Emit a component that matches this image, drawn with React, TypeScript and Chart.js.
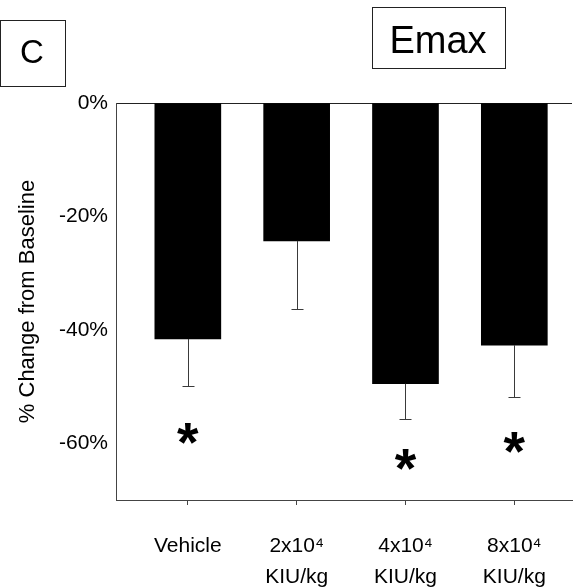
import React, { useEffect, useRef } from 'react';
import { Chart, registerables } from 'chart.js';

Chart.register(...registerables);

// ---- data ----
const categories: string[][] = [
  ['Vehicle'],
  ['2x10\u2074', 'KIU/kg'],
  ['4x10\u2074', 'KIU/kg'],
  ['8x10\u2074', 'KIU/kg'],
];
const meanChange = [-41.6, -24.3, -49.5, -42.7];
const errorSize = [8.3, 12.0, 6.2, 9.1];
const asteriskLevel: (number | null)[] = [-58.2, null, -62.8, -59.8];
const yTickValues = [0, -20, -40, -60];
const yMin = -70;
const yMax = 0;
const panelLabel = 'C';
const panelTitle = 'Emax';
const yAxisTitle = '% Change from Baseline';

const FONT = '"Liberation Sans", Arial, sans-serif';

const overlayPlugin = {
  id: 'overlay',
  afterDatasetsDraw(chart: any) {
    const ctx = chart.ctx as CanvasRenderingContext2D;
    const xs = chart.scales.x;
    const ys = chart.scales.y;
    ctx.save();
    // error bars (downward only)
    ctx.strokeStyle = '#3a3a3a';
    ctx.lineWidth = 1;
    meanChange.forEach((m, i) => {
      const x = Math.round(xs.getPixelForValue(i)) + 0.5;
      const y0 = ys.getPixelForValue(m);
      const y1 = Math.round(ys.getPixelForValue(m - errorSize[i])) + 0.5;
      ctx.beginPath();
      ctx.moveTo(x, y0);
      ctx.lineTo(x, y1);
      ctx.moveTo(x - 6, y1);
      ctx.lineTo(x + 6, y1);
      ctx.stroke();
    });
    // significance asterisks
    const probeSize = 100;
    ctx.font = `bold ${probeSize}px ${FONT}`;
    const m0 = ctx.measureText('*');
    const h0 = m0.actualBoundingBoxAscent + m0.actualBoundingBoxDescent;
    const size = (probeSize * 21) / (h0 || 30);
    ctx.font = `bold ${size}px ${FONT}`;
    ctx.fillStyle = '#000';
    ctx.textAlign = 'center';
    ctx.textBaseline = 'alphabetic';
    const mm = ctx.measureText('*');
    const mid = (mm.actualBoundingBoxAscent - mm.actualBoundingBoxDescent) / 2;
    asteriskLevel.forEach((lv, i) => {
      if (lv === null) return;
      const x = xs.getPixelForValue(i);
      const y = ys.getPixelForValue(lv);
      ctx.fillText('*', x, y + mid);
    });
    ctx.restore();
  },
  afterDraw(chart: any) {
    const ctx = chart.ctx as CanvasRenderingContext2D;
    ctx.save();
    ctx.strokeStyle = '#222';
    ctx.lineWidth = 1;
    ctx.fillStyle = '#000';
    // panel label box
    ctx.strokeRect(0.5, 20.5, 65, 66);
    ctx.font = `33px ${FONT}`;
    ctx.textAlign = 'center';
    ctx.textBaseline = 'alphabetic';
    ctx.fillText(panelLabel, 32, 63);
    // title box
    ctx.strokeRect(372.5, 7.5, 133, 61);
    ctx.font = `38px ${FONT}`;
    ctx.fillText(panelTitle, 438, 53);
    ctx.restore();
  },
};

export default function App() {
  const ref = useRef<HTMLCanvasElement | null>(null);
  useEffect(() => {
    if (!ref.current) return;
    Chart.defaults.font.family = FONT;
    const chart = new Chart(ref.current, {
      type: 'bar',
      data: {
        datasets: [
          {
            data: meanChange.map((v, i) => ({ x: i, y: v })),
            backgroundColor: '#000',
            borderWidth: 0,
            barThickness: 66,
          },
        ],
      },
      options: {
        responsive: false,
        animation: false,
        layout: { padding: { top: 103, right: 7, left: 0, bottom: 0 } },
        plugins: { legend: { display: false }, tooltip: { enabled: false }, title: { display: false } },
        scales: {
          x: {
            type: 'linear',
            min: -0.66,
            max: 3.53,
            offset: false,
            afterBuildTicks: (scale: any) => {
              scale.ticks = categories.map((_, i) => ({ value: i }));
            },
            afterFit: (scale: any) => {
              scale.height = 87;
            },
            grid: {
              display: true,
              offset: false,
              drawOnChartArea: false,
              drawTicks: true,
              tickLength: 5,
              color: '#444',
            },
            border: { display: true, color: '#444', width: 1 },
            ticks: {
              autoSkip: false,
              maxRotation: 0,
              padding: 25,
              color: '#000',
              font: { size: 21, lineHeight: 1.5 },
              callback: (v: any) => categories[Math.round(Number(v))] ?? '',
            },
          },
          y: {
            type: 'linear',
            min: yMin,
            max: yMax,
            afterBuildTicks: (scale: any) => {
              scale.ticks = yTickValues.map((v) => ({ value: v }));
            },
            afterFit: (scale: any) => {
              scale.width = 116;
            },
            grid: {
              display: true,
              drawTicks: false,
              color: (c: any) => (c.tick && c.tick.value === 0 ? '#222' : 'rgba(0,0,0,0)'),
              lineWidth: 1,
            },
            border: { display: true, color: '#444', width: 1 },
            ticks: {
              padding: 8,
              color: '#000',
              font: { size: 21 },
              callback: (v: any) => `${v}%`,
            },
            title: {
              display: true,
              text: yAxisTitle,
              color: '#000',
              font: { size: 22 },
              padding: { top: 15, bottom: 0 },
            },
          },
        },
      },
      plugins: [overlayPlugin],
    } as any);
    return () => chart.destroy();
  }, []);
  return (
    <canvas
      ref={ref}
      width={579}
      height={587}
      style={{ position: 'fixed', left: 0, top: 0, display: 'block', background: '#fff' }}
    />
  );
}
